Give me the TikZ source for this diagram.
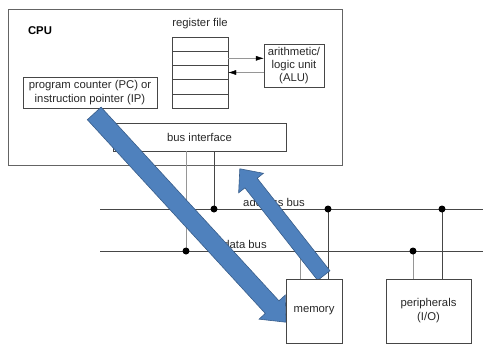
\documentclass[tikz,border=0pt]{standalone}
\usepackage{fontspec}
\setmainfont{Liberation Sans}
\usetikzlibrary{calc,shapes.arrows,arrows.meta}

\definecolor{flowblue}{RGB}{79,129,189}
\definecolor{flowedge}{RGB}{56,93,138}
\definecolor{boxgray}{RGB}{70,70,70}
\definecolor{cpugray}{RGB}{100,100,100}
\definecolor{tapgray}{RGB}{150,150,150}
\definecolor{inkgray}{RGB}{40,40,40}

\pgfdeclarelayer{front}
\pgfsetlayers{main,front}

\tikzset{
  unit/.style={draw=boxgray, fill=white, align=center, inner sep=0pt, text=inkgray},
  regcell/.style={draw=boxgray, minimum width=56pt, minimum height=14.2pt, inner sep=0pt},
  regarrow/.style={draw=tapgray, -{Latex[length=8pt,width=5pt,black]}},
  bus/.style={draw=boxgray, line width=0.8pt},
  datatap/.style={draw=tapgray, line width=0.8pt},
  addrtap/.style={draw=boxgray, line width=0.8pt},
  flow/.style={single arrow, fill=flowblue, draw=flowedge, line width=0.6pt,
    inner xsep=0pt, single arrow tip angle=82, anchor=tail}
}

\begin{document}
\begin{tikzpicture}[x=1pt,y=-1pt,font=\fontsize{11.3}{14}\selectfont,text=inkgray]
\useasboundingbox (0,0) rectangle (483,349);

% processor
\node[draw=cpugray, minimum width=334pt, minimum height=156pt, inner sep=0pt] (cpu) at (175,87) {};
\node[font=\fontsize{11.3}{14}\selectfont\bfseries, text=black] (cpulabel) at (40,31) {CPU};

% register file, five slots
\node (reglabel) at (200,24) {register file};
\foreach \i in {1,...,5}
  \node[regcell] (r\i) at (200,{37+14.2*(\i-0.5)}) {};

\node[unit, minimum width=60pt, minimum height=43pt, font=\fontsize{11.3}{12.8}\selectfont] (alu) at (294,65.5) {arithmetic/\\logic unit\\(ALU)};
\draw[regarrow] (r2.east) -- (r2.east -| alu.west);
\draw[regarrow] (alu.west |- r3.east) -- (r3.east);

\node[unit, minimum width=134pt, minimum height=31pt] (pc) at (90,92.5) {program counter (PC) or\\instruction pointer (IP)};
\node[unit, minimum width=173pt, minimum height=28pt] (busif) at (199.5,137) {bus interface};

% memory and I/O go above the big arrows
\begin{pgfonlayer}{front}
\node[unit, minimum width=56pt, minimum height=64pt] (mem) at (314,311) {memory};
\node[unit, minimum width=85pt, minimum height=64pt] (io) at (428.5,311) {peripherals\\(I/O)};
\end{pgfonlayer}

% address and data bus
\coordinate (abusL) at (100,209);
\coordinate (abusR) at (483,209);
\coordinate (dbusL) at (100,251);
\coordinate (dbusR) at (483,251);
\draw[bus] (abusL) -- (abusR);
\draw[bus] (dbusL) -- (dbusR);
\node (alabel) at (274,202) {address bus};
\node (dlabel) at (245,244) {data bus};

% taps
\coordinate (bifD) at (186,251);
\coordinate (bifA) at (214,209);
\coordinate (memD) at (300,251);
\coordinate (memA) at (328,209);
\coordinate (ioD) at (413,251);
\coordinate (ioA) at (442,209);
\draw[datatap] (bifD |- busif.south) -- (bifD);
\draw[addrtap] (bifA |- busif.south) -- (bifA);
\draw[datatap] (memD |- mem.north) -- (memD);
\draw[addrtap] (memA |- mem.north) -- (memA);
\draw[datatap] (ioD |- io.north) -- (ioD);
\draw[addrtap] (ioA |- io.north) -- (ioA);
\foreach \p in {bifD,bifA,memA,ioD,ioA}
  \fill[black] (\p) circle[radius=3.5pt];

% instruction fetch and write back
\coordinate (fetchA) at ($(pc.south)+(4,5)$);
\coordinate (fetchB) at ($(mem.west)+(0,11)$);
\coordinate (backA) at ($(mem.north)+(10,-3)$);
\coordinate (backB) at (240,169);
\path let \p1=($(fetchB)-(fetchA)$) in
  node[flow, inner ysep=9pt, single arrow head extend=8.5pt,
       minimum height={veclen(\x1,\y1)}, rotate={atan2(\y1,\x1)}] (fetch) at (fetchA) {};
\path let \p1=($(backB)-(backA)$) in
  node[flow, inner ysep=7.5pt, single arrow head extend=8pt,
       minimum height={veclen(\x1,\y1)}, rotate={atan2(\y1,\x1)}] (back) at (backA) {};

\end{tikzpicture}
\end{document}
